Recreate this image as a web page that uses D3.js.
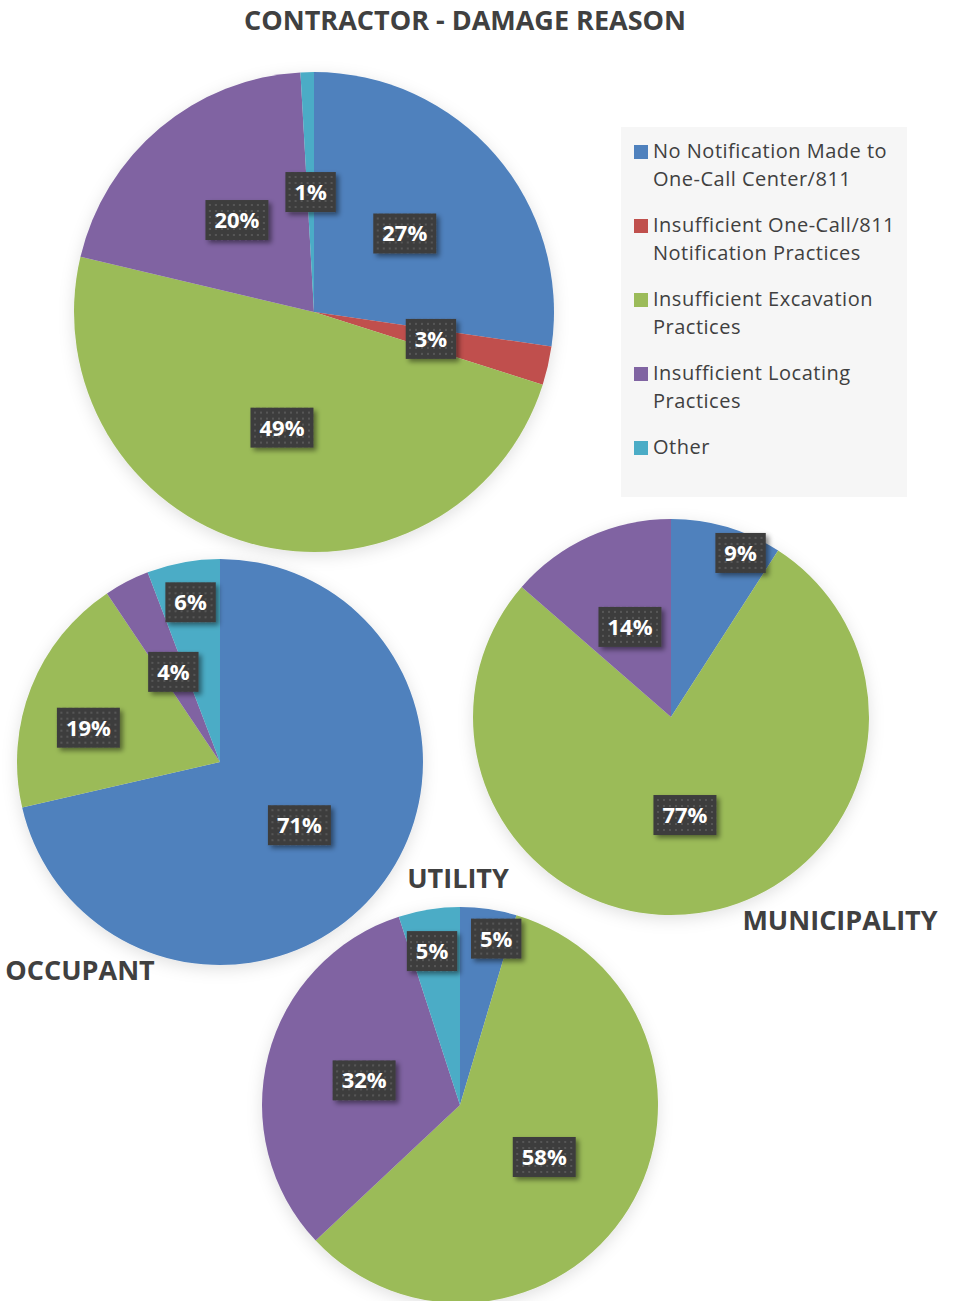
<!DOCTYPE html>
<html>
<head>
<meta charset="utf-8">
<script src="https://cdn.jsdelivr.net/npm/d3@7"></script>
<style>
  body { margin: 0; background: #fff; }
  text { font-family: "Open Sans", sans-serif; }
</style>
</head>
<body>
<div id="chart"></div>
<script>
const width = 957, height = 1301;

// categories (legend order = slice order)
const categories = [
    'No Notification Made to One-Call Center/811',
    'Insufficient One-Call/811 Notification Practices',
    'Insufficient Excavation Practices',
    'Insufficient Locating Practices',
    'Other'
];
const legendLines = [
    ['No Notification Made to', 'One-Call Center/811'],
    ['Insufficient One-Call/811', 'Notification Practices'],
    ['Insufficient Excavation', 'Practices'],
    ['Insufficient Locating', 'Practices'],
    ['Other']
];

// series values (percent)
const contractorValues   = [27.3, 2.6, 48.8, 20.4, 0.9];
const occupantValues     = [71.4, 0, 19.2, 3.6, 5.8];
const municipalityValues = [9.1, 0, 77.3, 13.6, 0];
const utilityValues      = [4.6, 0, 58.4, 32.0, 5.0];

const pieNames = ['CONTRACTOR - DAMAGE REASON', 'OCCUPANT', 'MUNICIPALITY', 'UTILITY'];

const colors = ['#4f81bd', '#c0504d', '#9bbb59', '#8064a2', '#4bacc6'];

// layout: pie centre/radius, title anchor, label placement [radius factor, angle nudge deg]
const layout = [
    { values: contractorValues, cx: 314, cy: 312, r: 240, tx: 465, ty: 30,
      labels: [[0.5, 0], [0.5, 0], [0.5, 0], [0.5, 0], [0.5, 0]] },
    { values: occupantValues, cx: 220, cy: 762, r: 203, tx: 80, ty: 980,
      labels: [[0.5, 0], [0.5, 0], [0.67, -7], [0.5, 0], [0.8, 0]] },
    { values: municipalityValues, cx: 671, cy: 717, r: 198, tx: 840, ty: 930,
      labels: [[0.9, 6.6], [0.5, 0], [0.5, 0], [0.5, 0], [0.5, 0]] },
    { values: utilityValues, cx: 460, cy: 1105, r: 198, tx: 458, ty: 888,
      labels: [[0.86, 4], [0.5, 0], [0.5, 0], [0.5, 0], [0.79, -1.3]] }
];

const svg = d3.select('#chart').append('svg')
    .attr('width', width)
    .attr('height', height);

const defs = svg.append('defs');

// dotted dark label fill
const pat = defs.append('pattern')
    .attr('id', 'dots')
    .attr('width', 6).attr('height', 6)
    .attr('patternUnits', 'userSpaceOnUse');
pat.append('rect').attr('width', 6).attr('height', 6).attr('fill', '#3d3d3d');
pat.append('rect').attr('x', 2).attr('y', 2).attr('width', 2).attr('height', 2).attr('fill', '#575757');

const lblShadow = defs.append('filter').attr('id', 'lblShadow')
    .attr('x', '-30%').attr('y', '-30%').attr('width', '170%').attr('height', '170%');
lblShadow.append('feDropShadow')
    .attr('dx', 3).attr('dy', 3).attr('stdDeviation', 2.5)
    .attr('flood-color', '#000').attr('flood-opacity', 0.45);

const pieShadow = defs.append('filter').attr('id', 'pieShadow')
    .attr('x', '-20%').attr('y', '-20%').attr('width', '140%').attr('height', '140%');
pieShadow.append('feDropShadow')
    .attr('dx', 0).attr('dy', 4).attr('stdDeviation', 8)
    .attr('flood-color', '#000').attr('flood-opacity', 0.12);

const pie = d3.pie().sort(null).value(d => d);

// Pies
layout.forEach(p => {
    const g = svg.append('g')
        .attr('transform', `translate(${p.cx},${p.cy})`);

    const arc = d3.arc().innerRadius(0).outerRadius(p.r);
    const arcs = pie(p.values);

    g.append('g')
        .attr('filter', 'url(#pieShadow)')
        .selectAll('path')
        .data(arcs)
        .enter()
        .append('path')
        .attr('d', arc)
        .attr('fill', (d, i) => colors[i]);
});

// Titles
layout.forEach((p, k) => {
    svg.append('text')
        .attr('x', p.tx)
        .attr('y', p.ty)
        .attr('text-anchor', 'middle')
        .style('font-size', '27px')
        .style('font-weight', 'bold')
        .style('fill', '#404040')
        .text(pieNames[k]);
});

// Data labels
layout.forEach(p => {
    const arcs = pie(p.values);
    arcs.forEach((d, i) => {
        if (d.value <= 0) return;
        const [rf, nudge] = p.labels[i];
        const a = (d.startAngle + d.endAngle) / 2 + nudge * Math.PI / 180;
        const x = p.cx + Math.sin(a) * p.r * rf;
        const y = p.cy - Math.cos(a) * p.r * rf;
        const txt = Math.round(d.value) + '%';

        const lg = svg.append('g').attr('transform', `translate(${x},${y})`);
        const t = lg.append('text')
            .attr('text-anchor', 'middle')
            .attr('dy', '0.36em')
            .style('font-size', '22px')
            .style('font-weight', 'bold')
            .style('fill', '#fff')
            .text(txt);
        const w = t.node().getComputedTextLength() + 18;
        lg.insert('rect', 'text')
            .attr('x', -w / 2).attr('y', -20)
            .attr('width', w).attr('height', 40)
            .attr('fill', 'url(#dots)')
            .attr('filter', 'url(#lblShadow)');
    });
});

// Legend
const legend = svg.append('g').attr('transform', 'translate(621,127)');
legend.append('rect')
    .attr('width', 286).attr('height', 370)
    .attr('fill', '#f6f6f6');

let yPos = 31;
categories.forEach((c, i) => {
    const row = legend.append('g').attr('transform', `translate(0,${yPos})`);
    row.append('rect')
        .attr('x', 13).attr('y', -13)
        .attr('width', 14).attr('height', 14)
        .attr('fill', colors[i]);
    legendLines[i].forEach((line, j) => {
        row.append('text')
            .attr('x', 32)
            .attr('y', j * 28)
            .style('font-size', '20px')
            .style('letter-spacing', '0.5px')
            .style('fill', '#404040')
            .text(line);
    });
    yPos += 74;
});
</script>
</body>
</html>
